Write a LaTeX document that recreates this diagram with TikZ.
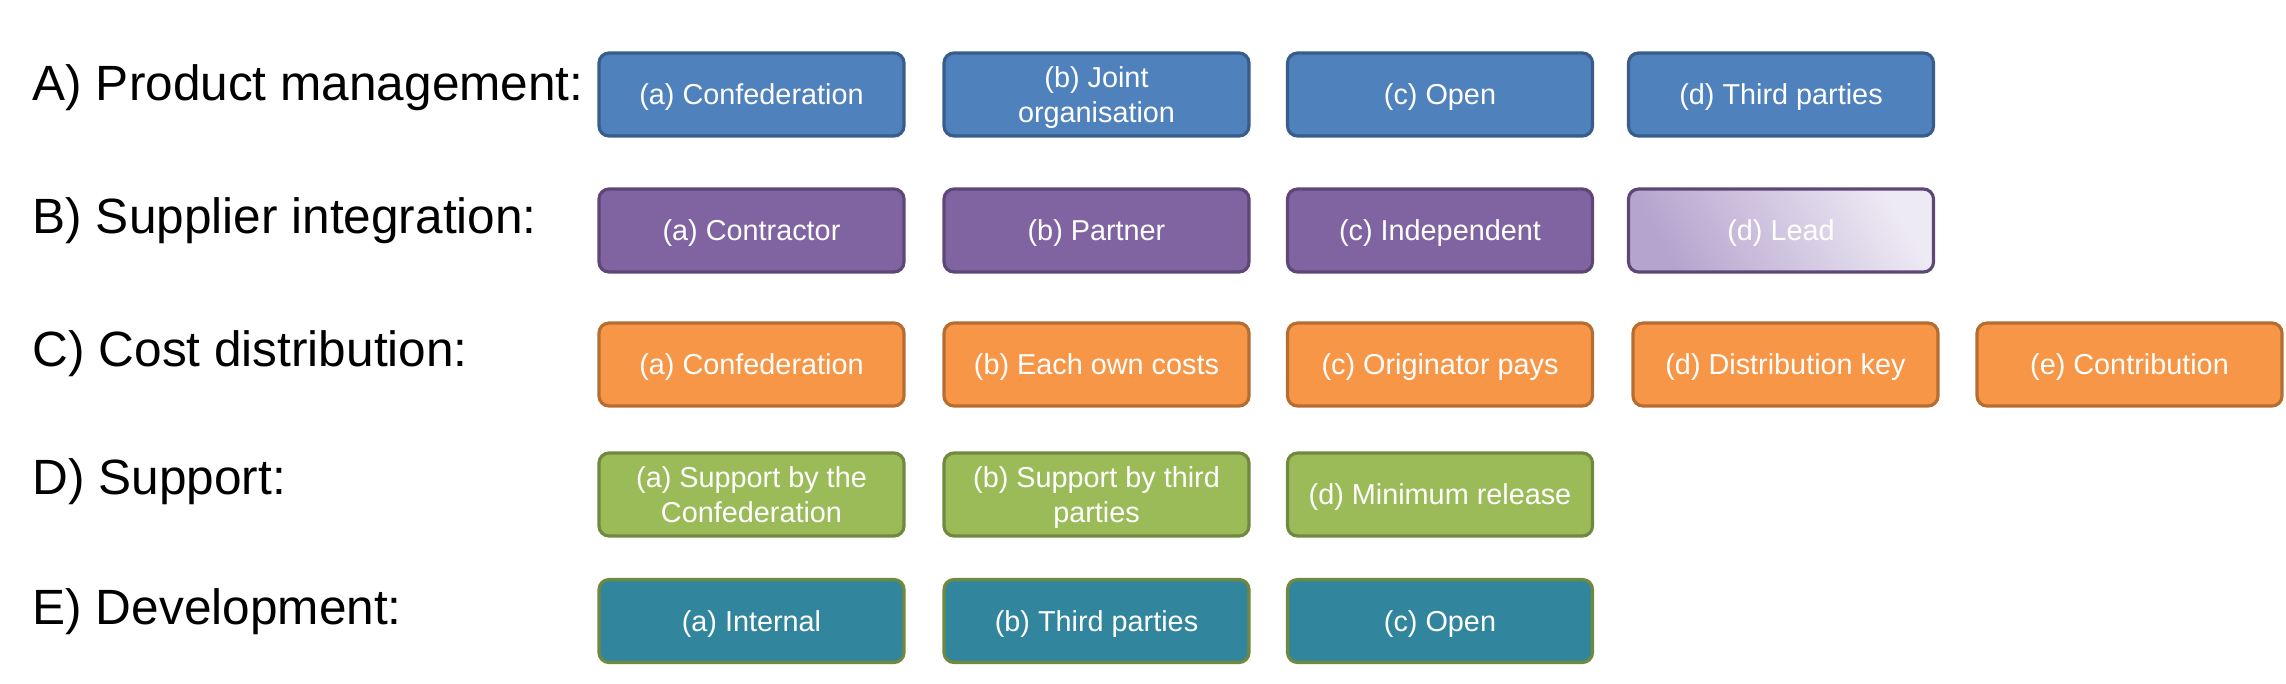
\documentclass[tikz,border=0pt]{standalone}
\usepackage{fontspec}
\setmainfont{Liberation Sans}
\usetikzlibrary{positioning}

\definecolor{pmfill}{HTML}{4F81BD}
\definecolor{pmline}{HTML}{385D8A}
\definecolor{sifill}{HTML}{8064A2}
\definecolor{siline}{HTML}{5C4776}
\definecolor{cdfill}{HTML}{F79646}
\definecolor{cdline}{HTML}{B66D31}
\definecolor{spfill}{HTML}{9BBB59}
\definecolor{spline}{HTML}{71893F}
\definecolor{devfill}{HTML}{31859C}
\definecolor{leadA}{HTML}{B5A4CE}
\definecolor{leadB}{HTML}{EEEAF4}

\begin{document}
\begin{tikzpicture}[
  option/.style={draw, rounded corners=0.1cm, line width=0.9pt,
    minimum width=3.05cm, minimum height=0.83cm, inner sep=1pt,
    text depth=0pt, text=white, align=center,
    font=\fontsize{8.2}{9.9}\selectfont},
  rowlabel/.style={anchor=base west, inner sep=0pt,
    font=\fontsize{14.1}{17}\selectfont},
  pm/.style={option, fill=pmfill, draw=pmline},
  si/.style={option, fill=sifill, draw=siline},
  cd/.style={option, fill=cdfill, draw=cdline},
  sp/.style={option, fill=spfill, draw=spline},
  dev/.style={option, fill=devfill, draw=spline}]
\useasboundingbox (0,0) rectangle (22.86,6.83);

% row labels
\node[rowlabel] (lblA) at (0.32,5.83) {A) Product management:};
\node[rowlabel] (lblB) at (0.32,4.50) {B) Supplier integration:};
\node[rowlabel] (lblC) at (0.32,3.17) {C) Cost distribution:};
\node[rowlabel] (lblD) at (0.32,1.89) {D) Support:};
\node[rowlabel] (lblE) at (0.32,0.59) {E) Development:};

% A) product management
\node[pm] (pm-a) at (7.515,5.885) {(a) Confederation};
\node[pm] (pm-b) at (10.965,5.885) {(b) Joint\\organisation};
\node[pm] (pm-c) at (14.40,5.885) {(c) Open};
\node[pm] (pm-d) at (17.81,5.885) {(d) Third parties};

% B) supplier integration
\node[si] (si-a) at (7.515,4.525) {(a) Contractor};
\node[si] (si-b) at (10.965,4.525) {(b) Partner};
\node[si] (si-c) at (14.40,4.525) {(c) Independent};
\node[option, draw=siline, left color=leadA, right color=leadB,
  shading angle=120] (si-d) at (17.81,4.525) {(d) Lead};

% C) cost distribution
\node[cd] (cd-a) at (7.515,3.185) {(a) Confederation};
\node[cd] (cd-b) at (10.965,3.185) {(b) Each own costs};
\node[cd] (cd-c) at (14.40,3.185) {(c) Originator pays};
\node[cd] (cd-d) at (17.855,3.185) {(d) Distribution key};
\node[cd] (cd-e) at (21.295,3.185) {(e) Contribution};

% D) support
\node[sp] (sp-a) at (7.515,1.885) {(a) Support by the\\Confederation};
\node[sp] (sp-b) at (10.965,1.885) {(b) Support by third\\parties};
\node[sp] (sp-d) at (14.40,1.885) {(d) Minimum release};

% E) development
\node[dev] (dev-a) at (7.515,0.62) {(a) Internal};
\node[dev] (dev-b) at (10.965,0.62) {(b) Third parties};
\node[dev] (dev-c) at (14.40,0.62) {(c) Open};
\end{tikzpicture}
\end{document}
